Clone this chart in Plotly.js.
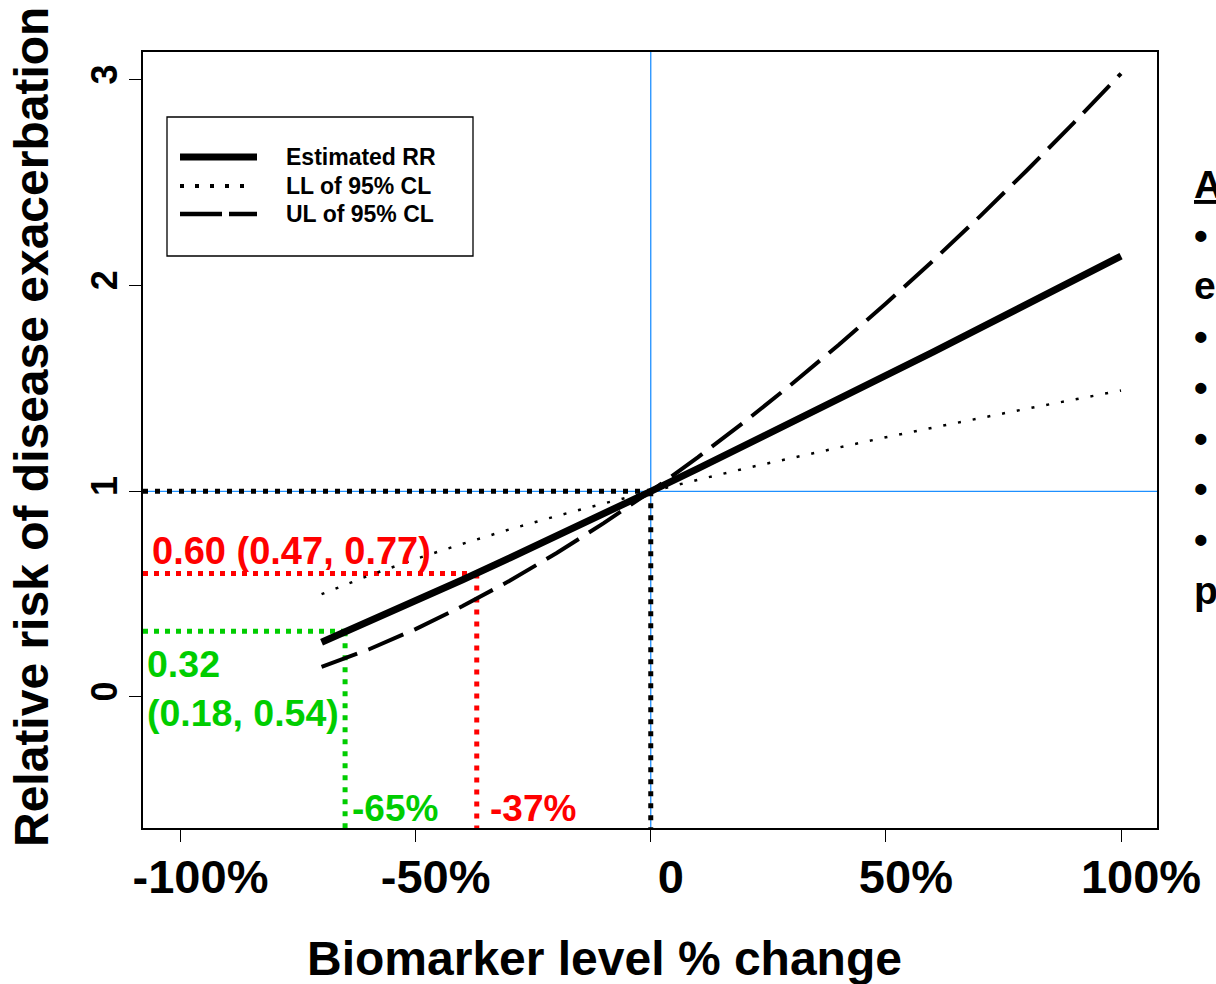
<!DOCTYPE html>
<html>
<head>
<meta charset="utf-8">
<script src="https://cdn.plot.ly/plotly-3.0.1.min.js"></script>
<style>
  html, body { margin: 0; padding: 0; background: #ffffff; }
  #chart { width: 1216px; height: 984px; }
</style>
</head>
<body>
<div id="chart"></div>
<script>
// Biomarker % change (x) and relative risk of exacerbation (y)
const pctChange  = [-70, -60, -50, -40, -30, -20, -10, 0, 10, 20, 30, 40, 50, 60, 70, 80, 90, 100];
const rrEstimate = [0.266, 0.365, 0.467, 0.570, 0.676, 0.782, 0.891, 1.000, 1.110, 1.222, 1.335, 1.448, 1.562, 1.677, 1.793, 1.909, 2.026, 2.144];
const rrLL       = [0.500, 0.590, 0.671, 0.745, 0.815, 0.880, 0.941, 1.000, 1.056, 1.111, 1.163, 1.213, 1.263, 1.310, 1.357, 1.402, 1.446, 1.490];
const rrUL       = [0.146, 0.231, 0.330, 0.442, 0.565, 0.700, 0.845, 1.000, 1.165, 1.339, 1.522, 1.713, 1.913, 2.121, 2.337, 2.561, 2.793, 3.031];

// Highlighted reductions: % change, RR and its 95% interval
const markPct    = [-65, -37];
const markRR     = [0.32, 0.60];
const markLow    = [0.18, 0.47];
const markHigh   = [0.54, 0.77];
const markColors = ['#00CD00', '#FF0000'];

// Reference point (no change)
const refPct = 0;
const refRR  = 1;

// Axis ticks
const xTickVals = [-100, -50, 0, 50, 100];
const xTickText = ['-100%', '-50%', '0', '50%', '100%'];
const yTickVals = [0, 1, 2, 3];
const yTickText = ['0', '1', '2', '3'];

// Legend entries
const legendNames = ['Estimated RR', 'LL of 95% CL', 'UL of 95% CL'];

// Side notes (continuing past the figure edge)
const sideNotes = ['<u>A</u>', '•', 'e', '•', '•', '•', '•', '•', 'p'];

// ---- layout geometry ----
const W = 1216, H = 984;
const M = { l: 143, r: 59, t: 52, b: 156 };
const xRange = [-107.97, 107.65];
const yRange = [-0.637, 3.136];
const fx = px => (px - M.l) / (W - M.l - M.r);
const fy = py => (H - M.b - py) / (H - M.t - M.b);

const FONT = 'Liberation Sans, Arial, Helvetica, sans-serif';
const bold = (size, color) => ({ family: FONT, size: size, color: color || '#000', weight: 'bold' });

const traces = [];

// dotted guides at RR = 1 / 0% change
traces.push({ x: [xRange[0], refPct], y: [refRR, refRR], mode: 'lines', hoverinfo: 'skip',
  line: { color: '#000', width: 5, dash: '5px,7px' } });
traces.push({ x: [refPct, refPct], y: [refRR, yRange[0]], mode: 'lines', hoverinfo: 'skip',
  line: { color: '#000', width: 5, dash: '5px,7px' } });

// coloured guides for the highlighted reductions
markPct.forEach((p, i) => {
  traces.push({ x: [xRange[0], p], y: [markRR[i], markRR[i]], mode: 'lines', hoverinfo: 'skip',
    line: { color: markColors[i], width: 5, dash: '5px,6px' } });
  traces.push({ x: [p, p], y: [markRR[i], yRange[0]], mode: 'lines', hoverinfo: 'skip',
    line: { color: markColors[i], width: 5, dash: '5px,7px' } });
});

// curves
traces.push({ x: pctChange, y: rrLL, mode: 'lines', name: legendNames[1],
  line: { color: '#000', width: 2.5, dash: '3px,12px' } });
traces.push({ x: pctChange, y: rrUL, mode: 'lines', name: legendNames[2],
  line: { color: '#000', width: 4, dash: '38px,12px' } });
traces.push({ x: pctChange, y: rrEstimate, mode: 'lines', name: legendNames[0],
  line: { color: '#000', width: 7 } });

const shapes = [
  // blue reference cross
  { type: 'line', layer: 'below', xref: 'x', yref: 'paper', x0: refPct, x1: refPct, y0: 0, y1: 1,
    line: { color: '#1E90FF', width: 1.3 } },
  { type: 'line', layer: 'below', xref: 'paper', yref: 'y', x0: 0, x1: 1, y0: refRR, y1: refRR,
    line: { color: '#1E90FF', width: 1.3 } },
  // legend frame
  { type: 'rect', xref: 'paper', yref: 'paper', x0: fx(167), x1: fx(473), y0: fy(256), y1: fy(117),
    line: { color: '#000', width: 1.3 }, fillcolor: 'rgba(0,0,0,0)' },
  // legend samples
  { type: 'line', xref: 'paper', yref: 'paper', x0: fx(180), x1: fx(257), y0: fy(157), y1: fy(157),
    line: { color: '#000', width: 7 } },
  { type: 'line', xref: 'paper', yref: 'paper', x0: fx(180), x1: fx(245), y0: fy(186), y1: fy(186),
    line: { color: '#000', width: 4, dash: '4px,11px' } },
  { type: 'line', xref: 'paper', yref: 'paper', x0: fx(180), x1: fx(257), y0: fy(214), y1: fy(214),
    line: { color: '#000', width: 4.5, dash: '42px,7px' } }
];

const annotations = [
  // axis titles
  { text: 'Biomarker level % change', xref: 'paper', yref: 'paper', x: fx(604), y: fy(958),
    xanchor: 'center', yanchor: 'middle', showarrow: false, font: bold(48) },
  { text: 'Relative risk of disease exacerbation', xref: 'paper', yref: 'paper', x: fx(32), y: fy(427),
    xanchor: 'center', yanchor: 'middle', textangle: -90, showarrow: false, font: bold(48) }
];

// legend labels
legendNames.forEach((n, i) => {
  annotations.push({ text: n, xref: 'paper', yref: 'paper', x: fx(284), y: fy([157, 186, 214][i]),
    xanchor: 'left', yanchor: 'middle', showarrow: false, font: bold(23) });
});

// value labels for the highlighted reductions
const fmt = v => v.toFixed(2);
annotations.push({
  text: fmt(markRR[1]) + ' (' + fmt(markLow[1]) + ', ' + fmt(markHigh[1]) + ')',
  xref: 'paper', yref: 'paper', x: fx(150), y: fy(551), xanchor: 'left', yanchor: 'middle',
  showarrow: false, font: bold(38, markColors[1])
});
annotations.push({
  text: fmt(markRR[0]) + '<br>(' + fmt(markLow[0]) + ', ' + fmt(markHigh[0]) + ')',
  xref: 'paper', yref: 'paper', x: fx(145), y: fy(688), xanchor: 'left', yanchor: 'middle', align: 'left',
  showarrow: false, font: bold(37.5, markColors[0])
});
markPct.forEach((p, i) => {
  annotations.push({ text: p + '%', xref: 'x', yref: 'paper', x: p, xshift: [5, 11][i], y: fy(808),
    xanchor: 'left', yanchor: 'middle', showarrow: false, font: bold(37, markColors[i]) });
});

// side notes
annotations.push({ text: sideNotes.join('<br>'), xref: 'paper', yref: 'paper', x: fx(1192), y: fy(161),
  xanchor: 'left', yanchor: 'top', align: 'left', showarrow: false, font: bold(39) });

const layout = {
  width: W, height: H,
  margin: M,
  paper_bgcolor: '#ffffff', plot_bgcolor: '#ffffff',
  showlegend: false,
  xaxis: {
    range: xRange, tickvals: xTickVals, ticktext: xTickText,
    ticks: 'outside', ticklen: 12, tickwidth: 1, tickcolor: '#000',
    showline: true, mirror: true, linewidth: 2, linecolor: '#000',
    showgrid: false, zeroline: false, tickfont: bold(47),
    ticklabelstandoff: -5, ticklabelshift: 20
  },
  yaxis: {
    range: yRange, tickvals: yTickVals, ticktext: yTickText, tickangle: -90,
    ticks: 'outside', ticklen: 12, tickwidth: 1, tickcolor: '#000',
    showline: true, mirror: true, linewidth: 2, linecolor: '#000',
    showgrid: false, zeroline: false, tickfont: bold(36), ticklabelstandoff: -2
  },
  shapes: shapes,
  annotations: annotations
};

Plotly.newPlot('chart', traces, layout, { displayModeBar: false, staticPlot: true });
</script>
</body>
</html>
